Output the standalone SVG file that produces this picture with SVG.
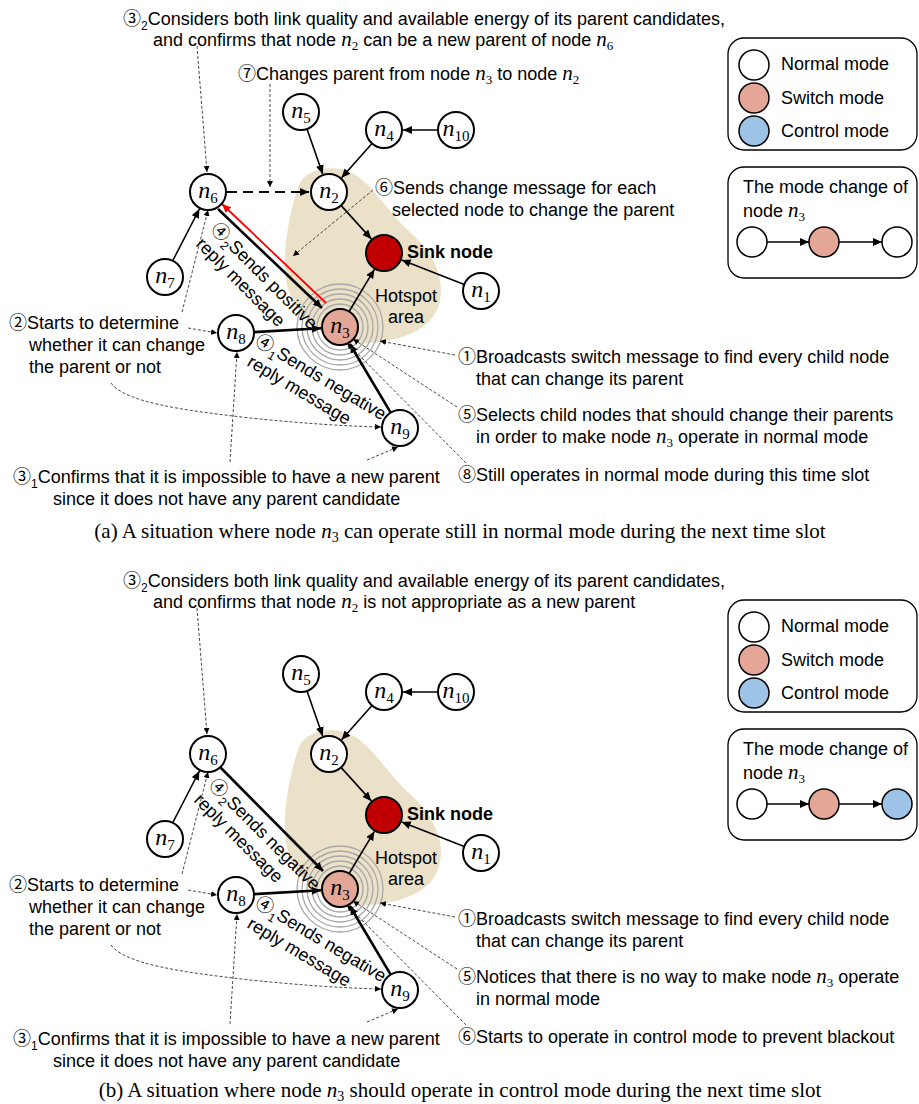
<svg xmlns="http://www.w3.org/2000/svg" width="919" height="1104" viewBox="0 0 919 1104">
<style>
.t{font-family:"Liberation Sans","Noto Sans CJK JP",sans-serif;font-size:18px;fill:#000}
.b{font-weight:bold}
.c{font-family:"Noto Sans CJK JP","DejaVu Sans",sans-serif;font-size:18px}
.cs{font-size:12px}
.mi{font-family:"Liberation Serif",serif;font-style:italic;font-size:21px}
.ms{font-family:"Liberation Serif",serif;font-size:13px}
.cap{font-family:"Liberation Serif",serif;font-size:21px;fill:#000}
.nl{font-family:"Liberation Serif",serif;font-style:italic;font-size:24px;text-anchor:middle;fill:#000}
.ns{font-style:normal;font-size:15px}
.nd{fill:#fff;stroke:#000;stroke-width:2}
.sw{fill:#E4A696;stroke:#000;stroke-width:2}
.sk{fill:#C00000;stroke:#000;stroke-width:2}
.ct{fill:#9DC3E6;stroke:#000;stroke-width:2}
.e{stroke:#000;stroke-width:1.6;fill:none;marker-end:url(#ah)}
.eb{stroke:#000;stroke-width:2.6;fill:none;marker-end:url(#ah)}
.er{stroke:#FF0000;stroke-width:1.8;fill:none;marker-end:url(#ahr)}
.ed{stroke:#000;stroke-width:1.8;fill:none;stroke-dasharray:10 6;marker-end:url(#ah)}
.d{stroke:#333;stroke-width:0.9;fill:none;stroke-dasharray:3 2;marker-end:url(#dh)}
.ring{fill:none;stroke:#A8A8A8;stroke-width:1.3}
.blob{fill:#EBE1C8}
.box{fill:#fff;stroke:#000;stroke-width:1.3}
</style>
<defs>
<marker id="ah" markerUnits="userSpaceOnUse" markerWidth="10" markerHeight="8" refX="9" refY="4" orient="auto"><path d="M0,0 L9,4 L0,8 z" fill="#000"/></marker>
<marker id="ahr" markerUnits="userSpaceOnUse" markerWidth="10" markerHeight="8" refX="9" refY="4" orient="auto"><path d="M0,0 L9,4 L0,8 z" fill="#FF0000"/></marker>
<marker id="dh" markerUnits="userSpaceOnUse" markerWidth="7" markerHeight="6" refX="6" refY="3" orient="auto"><path d="M0,0 L6,3 L0,6 z" fill="#000"/></marker>
</defs>
<rect width="919" height="1104" fill="#fff"/>

<!-- ================= PANEL A ================= -->
<g id="panel-a">
<path id="hotspot-a" class="blob" d="M300,183 C305,172 325,165 345,170 C370,178 385,210 410,232 C430,250 445,275 440,300 C436,325 410,340 370,343 C330,346 295,320 287,285 C280,255 292,200 300,183 Z"/>
<g id="rings-a">
<circle class="ring" cx="340" cy="327" r="23"/><circle class="ring" cx="340" cy="327" r="28"/><circle class="ring" cx="340" cy="327" r="33"/><circle class="ring" cx="340" cy="327" r="38"/><circle class="ring" cx="340" cy="327" r="43"/>
</g>
<g id="connectors-a">
<path class="e" d="M307,129 L322.7,174"/>
<path class="e" d="M372,143.5 L341.6,177.8"/>
<path class="e" d="M437,130 L403,130"/>
<path class="e" d="M341,205.4 L371.3,238.9"/>
<path class="e" d="M464.2,284.4 L401.7,259.9"/>
<path class="e" d="M349.1,311.5 L374.4,269.4"/>
<path class="e" d="M173.1,260 L199.4,209"/>
<path class="eb" d="M254,332.1 L321,328.3"/>
<path class="eb" d="M390.7,412.6 L349.8,344"/>
<path class="eb" d="M218,209 L322,308"/>
<path class="er" d="M326,303 L222,204"/>
<path class="ed" d="M227,192 L309,192"/>
<path class="d" d="M197,46 L207,172"/>
<path class="d" d="M270,84 L270,187"/>
<path class="d" d="M373,190 L293,256"/>
<path class="d" d="M182,312 L208,210"/>
<path class="d" d="M188,328 L217,333"/>
<path class="d" d="M111,383 C125,402 180,410 250,418 C300,423 340,426 381,427"/>
<path class="d" d="M230,462 L237,352"/>
<path class="d" d="M367,460 L398,447"/>
<path class="d" d="M455,355 L380,341"/>
<path class="d" d="M457,407 L353,339"/>
<path class="d" d="M466,463 L347,343"/>
</g>
<g id="a-n5"><circle class="nd" cx="301" cy="112" r="18"/><text class="nl" x="301" y="117.5">n<tspan class="ns" dy="5">5</tspan></text></g>
<g id="a-n4"><circle class="nd" cx="384" cy="130" r="18"/><text class="nl" x="384" y="135.5">n<tspan class="ns" dy="5">4</tspan></text></g>
<g id="a-n10"><circle class="nd" cx="456" cy="130" r="18"/><text class="nl" x="456" y="135.5">n<tspan class="ns" dy="5">10</tspan></text></g>
<g id="a-n6"><circle class="nd" cx="208" cy="192" r="18"/><text class="nl" x="208" y="197.5">n<tspan class="ns" dy="5">6</tspan></text></g>
<g id="a-n2"><circle class="nd" cx="329" cy="192" r="18"/><text class="nl" x="329" y="197.5">n<tspan class="ns" dy="5">2</tspan></text></g>
<g id="a-sink"><circle class="sk" cx="384" cy="253" r="18"/><text class="t b" x="407" y="258">Sink node</text></g>
<g id="a-n1"><circle class="nd" cx="481" cy="291" r="18"/><text class="nl" x="481" y="296.5">n<tspan class="ns" dy="5">1</tspan></text></g>
<g id="a-n7"><circle class="nd" cx="165" cy="277" r="18"/><text class="nl" x="165" y="282.5">n<tspan class="ns" dy="5">7</tspan></text></g>
<g id="a-n3"><circle class="sw" cx="340" cy="327" r="18"/><text class="nl" x="340" y="332.5">n<tspan class="ns" dy="5">3</tspan></text></g>
<g id="a-n8"><circle class="nd" cx="236" cy="333" r="18"/><text class="nl" x="236" y="338.5">n<tspan class="ns" dy="5">8</tspan></text></g>
<g id="a-n9"><circle class="nd" cx="400" cy="428" r="18"/><text class="nl" x="400" y="433.5">n<tspan class="ns" dy="5">9</tspan></text></g>
<g id="a-hotspot-label"><text class="t" x="375" y="302">Hotspot</text><text class="t" x="388" y="323">area</text></g>

<g id="a-texts">
<text class="t" x="123" y="25"><tspan class="c">③</tspan><tspan class="cs" dy="5">2</tspan><tspan dy="-5">Considers both link quality and available energy of its parent candidates,</tspan></text>
<text class="t" x="153" y="46">and confirms that node <tspan class="mi">n</tspan><tspan class="ms" dy="4">2</tspan><tspan dy="-4"> can be a new parent of node </tspan><tspan class="mi">n</tspan><tspan class="ms" dy="4">6</tspan></text>
<text class="t" x="238" y="80"><tspan class="c">⑦</tspan>Changes parent from node <tspan class="mi">n</tspan><tspan class="ms" dy="4">3</tspan><tspan dy="-4"> to node </tspan><tspan class="mi">n</tspan><tspan class="ms" dy="4">2</tspan></text>
<text class="t" x="375" y="194"><tspan class="c">⑥</tspan>Sends change message for each</text>
<text class="t" x="392" y="216">selected node to change the parent</text>
<text class="t" x="9" y="329"><tspan class="c">②</tspan>Starts to determine</text>
<text class="t" x="29" y="351">whether it can change</text>
<text class="t" x="29" y="373">the parent or not</text>
<text class="t" x="13" y="483"><tspan class="c">③</tspan><tspan class="cs" dy="5">1</tspan><tspan dy="-5">Confirms that it is impossible to have a new parent</tspan></text>
<text class="t" x="53" y="505">since it does not have any parent candidate</text>
<text class="t" x="458" y="363"><tspan class="c">①</tspan>Broadcasts switch message to find every child node</text>
<text class="t" x="476" y="385">that can change its parent</text>
<text class="t" x="458" y="421"><tspan class="c">⑤</tspan>Selects child nodes that should change their parents</text>
<text class="t" x="476" y="443">in order to make node <tspan class="mi">n</tspan><tspan class="ms" dy="4">3</tspan><tspan dy="-4"> operate in normal mode</tspan></text>
<text class="t" x="458" y="481"><tspan class="c">⑧</tspan>Still operates in normal mode during this time slot</text>
<text class="t" transform="translate(210,230) rotate(45)"><tspan class="c">④</tspan><tspan class="cs" dy="5">2</tspan><tspan dy="-5">Sends positive</tspan></text>
<text class="t" transform="translate(195,245) rotate(45)">reply message</text>
<text class="t" transform="translate(254,344) rotate(31)"><tspan class="c">④</tspan><tspan class="cs" dy="5">1</tspan><tspan dy="-5">Sends negative</tspan></text>
<text class="t" transform="translate(246,365) rotate(31)">reply message</text>
<text class="cap" x="460" y="538" text-anchor="middle">(a) A situation where node <tspan font-style="italic">n</tspan><tspan font-size="14" dy="4">3</tspan><tspan dy="-4"> can operate still in normal mode during the next time slot</tspan></text>
</g>

<g id="a-legend">
<rect class="box" x="728" y="38" width="189" height="112" rx="16"/>
<circle class="nd" cx="754" cy="65" r="15" style="stroke-width:1.5"/>
<circle class="sw" cx="754" cy="98" r="15" style="stroke-width:1.5"/>
<circle class="ct" cx="754" cy="131" r="15" style="stroke-width:1.5"/>
<text class="t" x="781" y="70">Normal mode</text>
<text class="t" x="781" y="104">Switch mode</text>
<text class="t" x="781" y="137">Control mode</text>
</g>
<g id="a-modechange">
<rect class="box" x="728" y="167" width="189" height="111" rx="16"/>
<text class="t" x="743" y="193">The mode change of</text>
<text class="t" x="743" y="217">node <tspan class="mi">n</tspan><tspan class="ms" dy="4">3</tspan></text>
<circle class="nd" cx="752" cy="242" r="15" style="stroke-width:1.5"/>
<circle class="sw" cx="824" cy="242" r="15" style="stroke-width:1.5"/>
<circle class="nd" cx="897" cy="242" r="15" style="stroke-width:1.5"/>
<path class="e" d="M767,242 L809,242"/>
<path class="e" d="M839,242 L882,242"/>
</g>
</g>

<!-- ================= PANEL B ================= -->
<g id="panel-b" transform="translate(0,562)">
<path id="hotspot-b" class="blob" d="M300,183 C305,172 325,165 345,170 C370,178 385,210 410,232 C430,250 445,275 440,300 C436,325 410,340 370,343 C330,346 295,320 287,285 C280,255 292,200 300,183 Z"/>
<g id="rings-b">
<circle class="ring" cx="340" cy="327" r="23"/><circle class="ring" cx="340" cy="327" r="28"/><circle class="ring" cx="340" cy="327" r="33"/><circle class="ring" cx="340" cy="327" r="38"/><circle class="ring" cx="340" cy="327" r="43"/>
</g>
<g id="connectors-b">
<path class="e" d="M307,129 L322.7,174"/>
<path class="e" d="M372,143.5 L341.6,177.8"/>
<path class="e" d="M437,130 L403,130"/>
<path class="e" d="M341,205.4 L371.3,238.9"/>
<path class="e" d="M464.2,284.4 L401.7,259.9"/>
<path class="e" d="M349.1,311.5 L374.4,269.4"/>
<path class="e" d="M173.1,260 L199.4,209"/>
<path class="eb" d="M254,332.1 L321,328.3"/>
<path class="eb" d="M390.7,412.6 L349.8,344"/>
<path class="eb" d="M220,205 L323,309"/>
<path class="d" d="M197,46 L207,172"/>
<path class="d" d="M182,312 L208,210"/>
<path class="d" d="M188,328 L217,333"/>
<path class="d" d="M111,383 C125,402 180,410 250,418 C300,423 340,426 381,427"/>
<path class="d" d="M230,462 L237,352"/>
<path class="d" d="M367,460 L398,447"/>
<path class="d" d="M455,355 L380,341"/>
<path class="d" d="M457,407 L353,339"/>
<path class="d" d="M466,463 L347,343"/>
</g>
<g id="b-n5"><circle class="nd" cx="301" cy="112" r="18"/><text class="nl" x="301" y="117.5">n<tspan class="ns" dy="5">5</tspan></text></g>
<g id="b-n4"><circle class="nd" cx="384" cy="130" r="18"/><text class="nl" x="384" y="135.5">n<tspan class="ns" dy="5">4</tspan></text></g>
<g id="b-n10"><circle class="nd" cx="456" cy="130" r="18"/><text class="nl" x="456" y="135.5">n<tspan class="ns" dy="5">10</tspan></text></g>
<g id="b-n6"><circle class="nd" cx="208" cy="192" r="18"/><text class="nl" x="208" y="197.5">n<tspan class="ns" dy="5">6</tspan></text></g>
<g id="b-n2"><circle class="nd" cx="329" cy="192" r="18"/><text class="nl" x="329" y="197.5">n<tspan class="ns" dy="5">2</tspan></text></g>
<g id="b-sink"><circle class="sk" cx="384" cy="253" r="18"/><text class="t b" x="407" y="258">Sink node</text></g>
<g id="b-n1"><circle class="nd" cx="481" cy="291" r="18"/><text class="nl" x="481" y="296.5">n<tspan class="ns" dy="5">1</tspan></text></g>
<g id="b-n7"><circle class="nd" cx="165" cy="277" r="18"/><text class="nl" x="165" y="282.5">n<tspan class="ns" dy="5">7</tspan></text></g>
<g id="b-n3"><circle class="sw" cx="340" cy="327" r="18"/><text class="nl" x="340" y="332.5">n<tspan class="ns" dy="5">3</tspan></text></g>
<g id="b-n8"><circle class="nd" cx="236" cy="333" r="18"/><text class="nl" x="236" y="338.5">n<tspan class="ns" dy="5">8</tspan></text></g>
<g id="b-n9"><circle class="nd" cx="400" cy="428" r="18"/><text class="nl" x="400" y="433.5">n<tspan class="ns" dy="5">9</tspan></text></g>
<g id="b-hotspot-label"><text class="t" x="375" y="302">Hotspot</text><text class="t" x="388" y="323">area</text></g>

<g id="b-texts">
<text class="t" x="123" y="25"><tspan class="c">③</tspan><tspan class="cs" dy="5">2</tspan><tspan dy="-5">Considers both link quality and available energy of its parent candidates,</tspan></text>
<text class="t" x="153" y="46">and confirms that node <tspan class="mi">n</tspan><tspan class="ms" dy="4">2</tspan><tspan dy="-4"> is not appropriate as a new parent</tspan></text>
<text class="t" x="9" y="329"><tspan class="c">②</tspan>Starts to determine</text>
<text class="t" x="29" y="351">whether it can change</text>
<text class="t" x="29" y="373">the parent or not</text>
<text class="t" x="13" y="483"><tspan class="c">③</tspan><tspan class="cs" dy="5">1</tspan><tspan dy="-5">Confirms that it is impossible to have a new parent</tspan></text>
<text class="t" x="53" y="505">since it does not have any parent candidate</text>
<text class="t" x="458" y="363"><tspan class="c">①</tspan>Broadcasts switch message to find every child node</text>
<text class="t" x="476" y="385">that can change its parent</text>
<text class="t" x="458" y="421"><tspan class="c">⑤</tspan>Notices that there is no way to make node <tspan class="mi">n</tspan><tspan class="ms" dy="4">3</tspan><tspan dy="-4"> operate</tspan></text>
<text class="t" x="476" y="443">in normal mode</text>
<text class="t" x="458" y="481"><tspan class="c">⑥</tspan>Starts to operate in control mode to prevent blackout</text>
<text class="t" transform="translate(208,224) rotate(45)"><tspan class="c">④</tspan><tspan class="cs" dy="5">2</tspan><tspan dy="-5">Sends negative</tspan></text>
<text class="t" transform="translate(193,239) rotate(45)">reply message</text>
<text class="t" transform="translate(254,344) rotate(31)"><tspan class="c">④</tspan><tspan class="cs" dy="5">1</tspan><tspan dy="-5">Sends negative</tspan></text>
<text class="t" transform="translate(246,365) rotate(31)">reply message</text>
<text class="cap" x="460" y="535" text-anchor="middle">(b) A situation where node <tspan font-style="italic">n</tspan><tspan font-size="14" dy="4">3</tspan><tspan dy="-4"> should operate in control mode during the next time slot</tspan></text>
</g>

<g id="b-legend">
<rect class="box" x="728" y="38" width="189" height="112" rx="16"/>
<circle class="nd" cx="754" cy="65" r="15" style="stroke-width:1.5"/>
<circle class="sw" cx="754" cy="98" r="15" style="stroke-width:1.5"/>
<circle class="ct" cx="754" cy="131" r="15" style="stroke-width:1.5"/>
<text class="t" x="781" y="70">Normal mode</text>
<text class="t" x="781" y="104">Switch mode</text>
<text class="t" x="781" y="137">Control mode</text>
</g>
<g id="b-modechange">
<rect class="box" x="728" y="167" width="189" height="111" rx="16"/>
<text class="t" x="743" y="193">The mode change of</text>
<text class="t" x="743" y="217">node <tspan class="mi">n</tspan><tspan class="ms" dy="4">3</tspan></text>
<circle class="nd" cx="752" cy="242" r="15" style="stroke-width:1.5"/>
<circle class="sw" cx="824" cy="242" r="15" style="stroke-width:1.5"/>
<circle class="ct" cx="897" cy="242" r="15" style="stroke-width:1.5"/>
<path class="e" d="M767,242 L809,242"/>
<path class="e" d="M839,242 L882,242"/>
</g>
</g>
</svg>
